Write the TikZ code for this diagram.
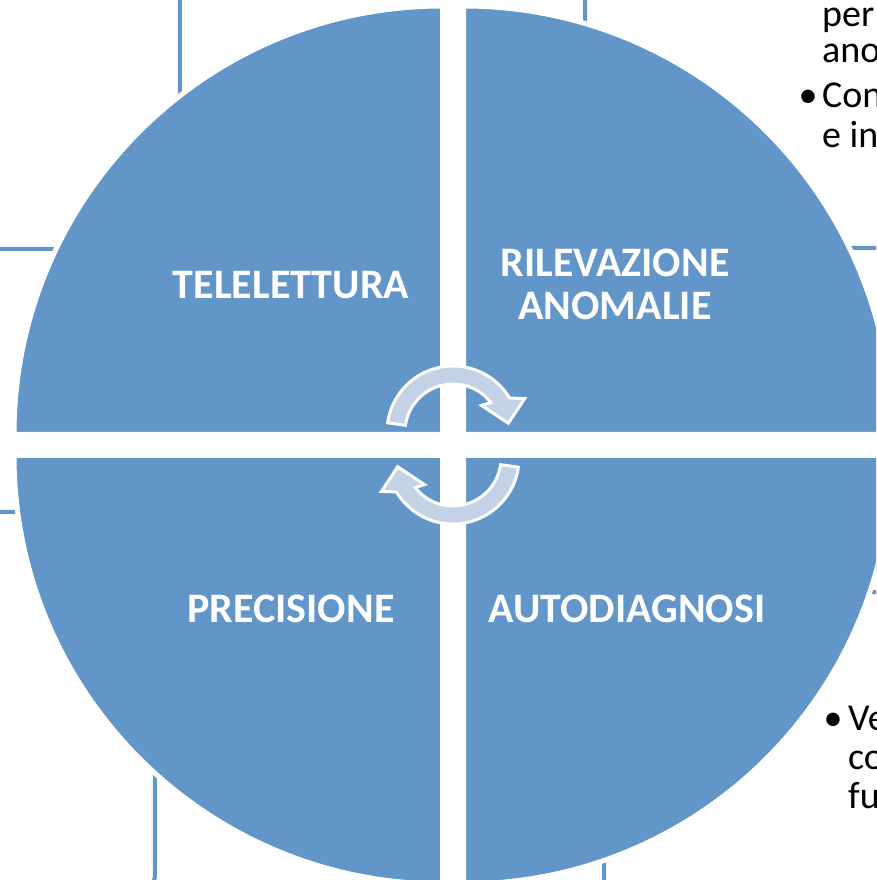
\documentclass[tikz,border=0pt]{standalone}
\usepackage{fontspec}
\setmainfont{Carlito}
\usetikzlibrary{positioning}

\definecolor{wheelblue}{RGB}{98,150,201}
\definecolor{cyclegrey}{RGB}{196,210,231}

\tikzset{
  quad/.style={fill=wheelblue, draw=white, line width=5pt},
  frame/.style={draw=wheelblue, line width=4pt, rounded corners=9pt},
  cyc/.style={fill=cyclegrey, draw=white, line width=3pt, line join=miter},
  title/.style={text=white, align=center, inner sep=0pt,
    font=\fontsize{42}{43}\selectfont\bfseries},
  side/.style={text=black, align=left, inner sep=0pt, anchor=base west}
}

\begin{document}
\begin{tikzpicture}[x=1pt, y=1pt]
    \useasboundingbox (-453,-435) rectangle (423,445);
    \clip (-453,-435) rectangle (423,445);
    % frames behind the wheel
    \draw[frame] (-520,196) rectangle (-273,520);
    \draw[frame] (132,197) rectangle (520,520);
    \draw[frame] (-520,-440) rectangle (-298,-67);
    \draw[frame] (151,-520) rectangle (520,-147);
    % the four quarters
    \path[quad] (10.5,10.5) -- ++(428.5,0) arc[start angle=0, end angle=90, radius=428.5] -- cycle;
    \path[quad] (-10.5,10.5) -- ++(0,428.5) arc[start angle=90, end angle=180, radius=428.5] -- cycle;
    \path[quad] (-10.5,-10.5) -- ++(-428.5,0) arc[start angle=180, end angle=270, radius=428.5] -- cycle;
    \path[quad] (10.5,-10.5) -- ++(0,-428.5) arc[start angle=270, end angle=360, radius=428.5] -- cycle;
    % cycle arrows
    \path[cyc, shift={(0,13)}] (172:66) arc[start angle=172, end angle=31, radius=66]
        -- (25:79) -- (9:56) -- (43:39) -- (38:48) arc[start angle=38, end angle=172, radius=48] -- cycle;
    \path[cyc, rotate=180, shift={(0,13)}] (172:66) arc[start angle=172, end angle=31, radius=66]
        -- (25:79) -- (9:56) -- (43:39) -- (38:48) arc[start angle=38, end angle=172, radius=48] -- cycle;
    % labels
    \node[title] (tele) at (-162,160) {TELELETTURA};
    \node[title] (rilev) at (162,161) {RILEVAZIONE\\ANOMALIE};
    \node[title] (prec) at (-162,-164) {PRECISIONE};
    \node[title] (auto) at (174,-164) {AUTODIAGNOSI};
    % text of the frames on the right (anchored at the last line)
    \node[side, font=\fontsize{38}{36}\selectfont] (topa) at (369,382) {per\\ano};
    \node[side, font=\fontsize{38}{40}\selectfont] (topb) at (369,297) {Con\\e in};
    \node[side, anchor=base, font=\fontsize{38}{40}\selectfont] (dotb) at (355,337) {•};
    \node[side, font=\fontsize{38}{39}\selectfont] (lowa) at (395,-363) {Ve\\co\\fu};
    \node[side, anchor=base, font=\fontsize{38}{39}\selectfont] (dotc) at (380,-285) {•};
\end{tikzpicture}
\end{document}
